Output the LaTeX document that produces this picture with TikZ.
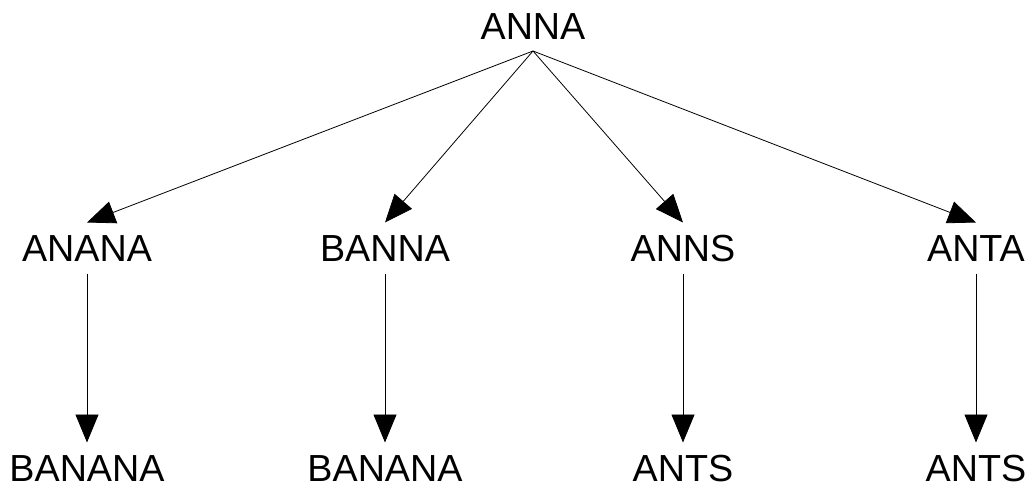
\documentclass[tikz,border=0pt]{standalone}
\usepackage{fontspec}
\setmainfont{Liberation Sans}
\usetikzlibrary{arrows.meta}
\tikzset{
  word/.style={inner xsep=0pt, inner ysep=12pt, outer sep=0pt,
    text height=27pt, text depth=0pt,
    font=\fontsize{37.7}{40}\selectfont},
  leaf/.style={word, inner ysep=1pt},
  link/.style={line width=0.8pt, -{Triangle[length=28pt,width=23pt]}},
  down/.style={link, shorten >=11pt}
}
\begin{document}
\begin{tikzpicture}[x=1pt,y=-1pt]
\useasboundingbox (0,0) rectangle (1029,485);
\node[word] (anna) at (533,25.5) {ANNA};
\node[word] (anana) at (87,248) {ANANA};
\node[word] (banna) at (385,248) {BANNA};
\node[word] (anns) at (683,248) {ANNS};
\node[word] (anta) at (976,248) {ANTA};
\node[leaf] (banana1) at (87,468) {BANANA};
\node[leaf] (banana2) at (385,468) {BANANA};
\node[leaf] (ants1) at (683,468) {ANTS};
\node[leaf] (ants2) at (976,468) {ANTS};
\draw[link] (anna.south) -- (anana.north);
\draw[link] (anna.south) -- (banna.north);
\draw[link] (anna.south) -- (anns.north);
\draw[link] (anna.south) -- (anta.north);
\draw[down] (anana.south) -- (banana1.north);
\draw[down] (banna.south) -- (banana2.north);
\draw[down] (anns.south) -- (ants1.north);
\draw[down] (anta.south) -- (ants2.north);
\end{tikzpicture}
\end{document}
